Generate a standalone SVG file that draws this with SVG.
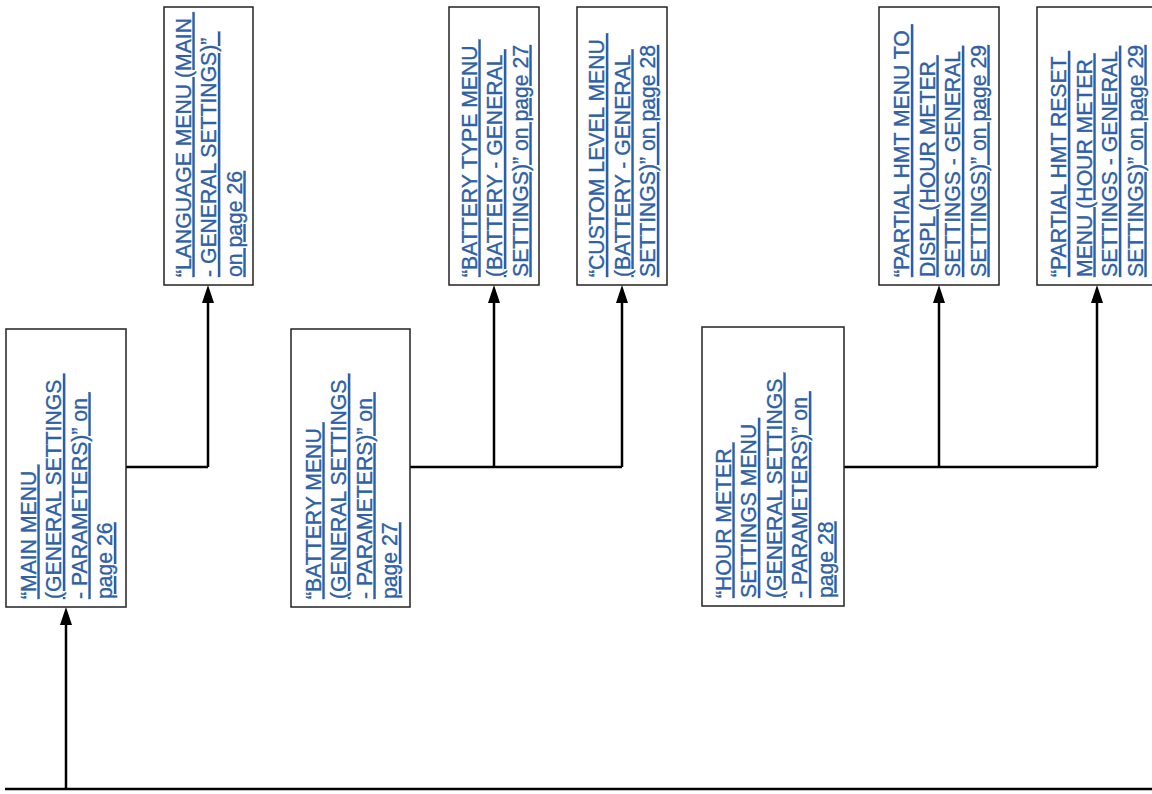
<svg xmlns="http://www.w3.org/2000/svg" width="1152" height="794" viewBox="0 0 1152 794">
<defs>
<marker id="arr" viewBox="0 0 18 12" refX="0" refY="6" markerWidth="18" markerHeight="12" markerUnits="userSpaceOnUse" orient="auto">
<path d="M0,0 L18,6 L0,12 z" fill="#000"/>
</marker>
<style>
.box{fill:#fff;stroke:#222;stroke-width:1.5}
.t{font-family:"Liberation Sans",Arial,sans-serif;font-size:21.2px;fill:#2f5fa7;stroke:#2f5fa7;stroke-width:0.35;text-decoration:underline;white-space:pre}
.c{fill:none;stroke:#000;stroke-width:2.5}
.ca{fill:none;stroke:#000;stroke-width:2.5;marker-end:url(#arr)}
</style>
</defs>
<rect width="1152" height="794" fill="#fff"/>
<g id="connectors">
<path class="c" d="M5,789 H1152"/>
<path class="ca" d="M66,789 V625"/>
<path class="c" d="M126,467 H208"/>
<path class="ca" d="M208,467 V303"/>
<path class="c" d="M410,467 H622"/>
<path class="ca" d="M494,467 V303"/>
<path class="ca" d="M622,467 V303"/>
<path class="c" d="M844,467 H1097"/>
<path class="ca" d="M939,467 V303"/>
<path class="ca" d="M1097,467 V303"/>
</g>
<g id="main-menu">
<rect class="box" x="6" y="329" width="120" height="278"/>
<text class="t" transform="translate(35.5,599) rotate(-90)">“MAIN MENU </text>
<text class="t" transform="translate(61,599) rotate(-90)">(GENERAL SETTINGS </text>
<text class="t" transform="translate(86.5,599) rotate(-90)">- PARAMETERS)” on </text>
<text class="t" transform="translate(112,599) rotate(-90)">page 26</text>
</g>
<g id="language-menu">
<rect class="box" x="164" y="7" width="89" height="278"/>
<text class="t" transform="translate(190.5,277) rotate(-90)">“LANGUAGE MENU (MAIN </text>
<text class="t" transform="translate(216,277) rotate(-90)">- GENERAL SETTINGS)” </text>
<text class="t" transform="translate(241.5,277) rotate(-90)">on page 26</text>
</g>
<g id="battery-menu">
<rect class="box" x="291" y="329" width="119" height="278"/>
<text class="t" transform="translate(320.5,599) rotate(-90)">“BATTERY MENU </text>
<text class="t" transform="translate(346,599) rotate(-90)">(GENERAL SETTINGS </text>
<text class="t" transform="translate(371.5,599) rotate(-90)">- PARAMETERS)” on </text>
<text class="t" transform="translate(397,599) rotate(-90)">page 27</text>
</g>
<g id="battery-type-menu">
<rect class="box" x="449" y="7" width="90" height="278"/>
<text class="t" transform="translate(476.5,277) rotate(-90)">“BATTERY TYPE MENU </text>
<text class="t" transform="translate(502,277) rotate(-90)">(BATTERY - GENERAL </text>
<text class="t" transform="translate(527.5,277) rotate(-90)">SETTINGS)” on page 27</text>
</g>
<g id="custom-level-menu">
<rect class="box" x="577" y="7" width="90" height="278"/>
<text class="t" transform="translate(604,277) rotate(-90)">“CUSTOM LEVEL MENU </text>
<text class="t" transform="translate(629.5,277) rotate(-90)">(BATTERY - GENERAL </text>
<text class="t" transform="translate(655,277) rotate(-90)">SETTINGS)” on page 28</text>
</g>
<g id="hour-meter-settings-menu">
<rect class="box" x="702" y="327" width="142" height="279"/>
<text class="t" transform="translate(730.5,598) rotate(-90)">“HOUR METER </text>
<text class="t" transform="translate(756,598) rotate(-90)">SETTINGS MENU </text>
<text class="t" transform="translate(781.5,598) rotate(-90)">(GENERAL SETTINGS </text>
<text class="t" transform="translate(807,598) rotate(-90)">- PARAMETERS)” on </text>
<text class="t" transform="translate(832.5,598) rotate(-90)">page 28</text>
</g>
<g id="partial-hmt-displ-menu">
<rect class="box" x="879" y="7" width="120" height="278"/>
<text class="t" transform="translate(909,277) rotate(-90)">“PARTIAL HMT MENU TO </text>
<text class="t" transform="translate(934.5,277) rotate(-90)">DISPL (HOUR METER </text>
<text class="t" transform="translate(960,277) rotate(-90)">SETTINGS - GENERAL </text>
<text class="t" transform="translate(985.5,277) rotate(-90)">SETTINGS)” on page 29</text>
</g>
<g id="partial-hmt-reset-menu">
<rect class="box" x="1037" y="7" width="120" height="278"/>
<text class="t" transform="translate(1066,277) rotate(-90)">“PARTIAL HMT RESET </text>
<text class="t" transform="translate(1091.5,277) rotate(-90)">MENU (HOUR METER </text>
<text class="t" transform="translate(1117,277) rotate(-90)">SETTINGS - GENERAL </text>
<text class="t" transform="translate(1142.5,277) rotate(-90)">SETTINGS)” on page 29</text>
</g>
</svg>
